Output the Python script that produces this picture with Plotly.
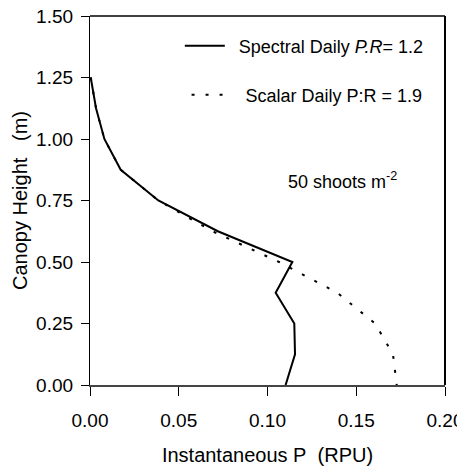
import plotly.graph_objects as go

# ---- data ----
heights = [1.25, 1.125, 1.0, 0.875, 0.75, 0.625, 0.5, 0.375, 0.25, 0.125, 0.0]
spectral_p = [0.0004, 0.0034, 0.0081, 0.0173, 0.0385, 0.072, 0.114, 0.1046, 0.1151, 0.1155, 0.1102]
scalar_p = [0.0004, 0.0034, 0.0081, 0.0173, 0.0385, 0.069, 0.1065, 0.1393, 0.1606, 0.1707, 0.1728]
spectral_name = "\u2002Spectral Daily <i>P.R</i>= 1.2"
scalar_name = "\u2002Scalar Daily P:R = 1.9"
x_ticks = [0.0, 0.05, 0.10, 0.15, 0.20]
x_ticklabels = ["0.00", "0.05", "0.10", "0.15", "0.20"]
y_ticks = [0.0, 0.25, 0.5, 0.75, 1.0, 1.25, 1.5]
y_ticklabels = ["0.00", "0.25", "0.50", "0.75", "1.00", "1.25", "1.50"]
density_label = "50 shoots m<sup>-2</sup>"
density_pos = (0.142, 0.833)
x_title = "Instantaneous P\u00a0\u00a0(RPU)"
y_title = "Canopy Height\u00a0\u00a0\u00a0(m)"

FONT = "Liberation Sans, Arial, sans-serif"

fig = go.Figure()
fig.add_trace(go.Scatter(x=spectral_p, y=heights, mode="lines", name=spectral_name,
                         line=dict(color="black", width=2), legend="legend"))
fig.add_trace(go.Scatter(x=scalar_p, y=heights, mode="lines", name=scalar_name,
                         line=dict(color="black", width=2, dash="3px,11px"), legend="legend2"))

fig.add_annotation(x=density_pos[0], y=density_pos[1], xref="x", yref="y", text=density_label,
                   showarrow=False, font=dict(family=FONT, size=18, color="black"))

# plot frame (top and right edges of the plotting area)
fig.add_shape(type="line", xref="paper", yref="paper", x0=0, x1=1, y0=1, y1=1,
              line=dict(color="black", width=1.5))
fig.add_shape(type="line", xref="paper", yref="paper", x0=1, x1=1, y0=0, y1=1,
              line=dict(color="black", width=2))

common = dict(showgrid=False, zeroline=False, automargin=False, ticklabeloverflow="allow")
fig.update_layout(
    template="none",
    width=449, height=458,
    margin=dict(l=82, r=12, t=8, b=81, autoexpand=False),
    paper_bgcolor="white", plot_bgcolor="white",
    font=dict(family=FONT, size=19, color="black"),
    xaxis=dict(range=[0, 0.2], tickvals=x_ticks, ticktext=x_ticklabels, ticks="outside",
               ticklen=9, tickwidth=1, tickcolor="black", showline=True, linecolor="#444",
               linewidth=2, tickfont=dict(family=FONT, size=19), ticklabelstandoff=8,
               title=dict(text=x_title, font=dict(family=FONT, size=20), standoff=20), **common),
    xaxis2=dict(range=[0, 0.2], overlaying="x", anchor="y", side="bottom", tickvals=x_ticks,
                ticks="inside", ticklen=10, tickwidth=1, tickcolor="black",
                showticklabels=False, showline=False, **common),
    yaxis=dict(range=[0, 1.5], tickvals=y_ticks, ticktext=y_ticklabels, ticks="outside",
               ticklen=8, tickwidth=1, tickcolor="black", showline=True, linecolor="black",
               linewidth=1.2, tickfont=dict(family=FONT, size=19), ticklabelstandoff=4,
               title=dict(text=y_title, font=dict(family=FONT, size=20), standoff=3), **common),
    yaxis2=dict(range=[0, 1.5], overlaying="y", anchor="x", side="left", tickvals=y_ticks,
                ticks="inside", ticklen=7, tickwidth=1, tickcolor="black",
                showticklabels=False, showline=False, **common),
    legend=dict(x=0.253, y=0.9187, xanchor="left", yanchor="middle", bgcolor="rgba(0,0,0,0)",
                borderwidth=0, itemwidth=40, font=dict(family=FONT, size=18)),
    legend2=dict(x=0.272, y=0.786, xanchor="left", yanchor="middle", bgcolor="rgba(0,0,0,0)",
                 borderwidth=0, itemwidth=40, font=dict(family=FONT, size=18)),
    showlegend=True,
)

fig.write_html("out.html")
